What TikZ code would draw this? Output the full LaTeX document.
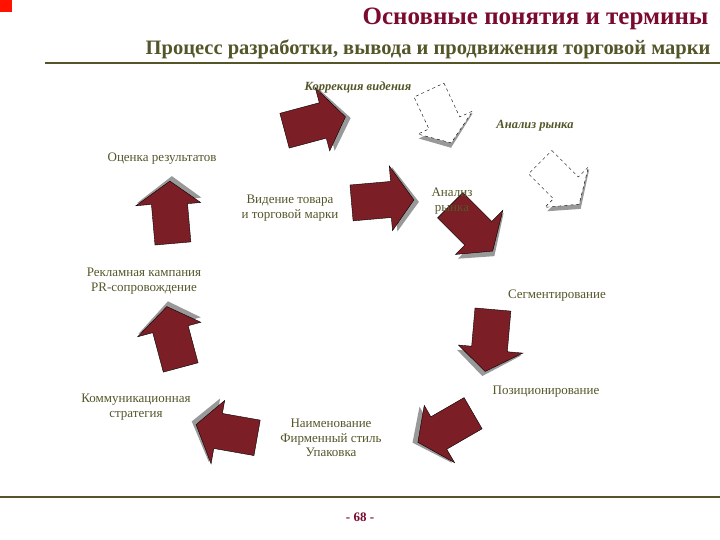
\documentclass[tikz,border=0pt]{standalone}
\usepackage{fontspec}
\setmainfont{Liberation Serif}
\definecolor{olive}{HTML}{55552A}
\definecolor{ttl}{HTML}{7A0A2E}
\definecolor{arr}{HTML}{7B1E26}
\definecolor{shd}{HTML}{999999}
\tikzset{
  lbl/.style={text=olive,font=\fontsize{13}{14.5}\selectfont,align=center,inner sep=1pt},
  lbli/.style={lbl,font=\fontsize{12.5}{14}\selectfont\bfseries\itshape},
  pics/barrow/.style={code={
    \fill[shd] (-24,-13)--(8,-13)--(8,-27)--(28,4)--(8,27)--(8,13)--(-24,13)--cycle;
    \filldraw[fill=arr,draw=black,line width=0.4pt] (-28,-15)--(6,-15)--(6,-28)--(24,2)--(4,26)--(4,15)--(-28,15)--cycle;
  }},
  pics/darrow/.style={code={
    \fill[shd] (-24,-13)--(8,-13)--(8,-27)--(28,4)--(8,27)--(8,13)--(-24,13)--cycle;
    \filldraw[fill=white,draw=black,dashed,line width=0.4pt] (-28,-15)--(6,-15)--(6,-28)--(24,2)--(4,26)--(4,15)--(-28,15)--cycle;
  }}
}
\begin{document}
\begin{tikzpicture}[x=1pt,y=-1pt]
\useasboundingbox (0,0) rectangle (720,540);
\fill[red!85!orange] (0,0) rectangle (12,12);
\node[text=ttl,font=\fontsize{25}{28}\selectfont\bfseries,anchor=east] (t) at (712,19) {Основные понятия и термины};
\node[text=olive,font=\fontsize{20.5}{22}\selectfont\bfseries,anchor=east] (st) at (714,49) {Процесс разработки, вывода и продвижения торговой марки};
\draw[olive,line width=1.5pt] (45,63) -- (720,63);
\draw[olive,line width=1.5pt] (0,497) -- (720,497);
\node[text=ttl,font=\fontsize{13}{14}\selectfont\bfseries] (pg) at (360,517) {- 68 -};

\pic[rotate=15,scale=1.2] at (317,122) {barrow};
\pic[rotate=-65,scale=1.1] at (442,118) {darrow};
\pic[rotate=-45,scale=1.1] at (562,184) {darrow};
\pic[rotate=5,scale=1.2] at (385,200) {barrow};
\pic[rotate=-45,scale=1.2] at (474,229) {barrow};
\pic[rotate=-95,scale=1.2] at (490,343) {barrow};
\pic[rotate=-150,scale=1.2] at (444,430) {barrow};
\pic[rotate=170,scale=1.2] at (224,432) {barrow};
\pic[rotate=105,scale=1.2] at (172,335) {barrow};
\pic[rotate=95,scale=1.2] at (170,210) {barrow};

\node[lbli] (a) at (358,87) {Коррекция видения};
\node[lbli] (b) at (535,126) {Анализ рынка};
\node[lbl] (c) at (162,159) {Оценка результатов};
\node[lbl] (d) at (290,208) {Видение товара\\и торговой марки};
\node[lbl] (e) at (452,201) {Анализ\\рынка};
\node[lbl] (f) at (144,281) {Рекламная кампания\\PR-сопровождение};
\node[lbl] (g) at (557,296) {Сегментирование};
\node[lbl] (h) at (546,392) {Позиционирование};
\node[lbl] (i) at (136,407) {Коммуникационная\\стратегия};
\node[lbl] (j) at (331,438) {Наименование\\Фирменный стиль\\Упаковка};
\end{tikzpicture}
\end{document}
